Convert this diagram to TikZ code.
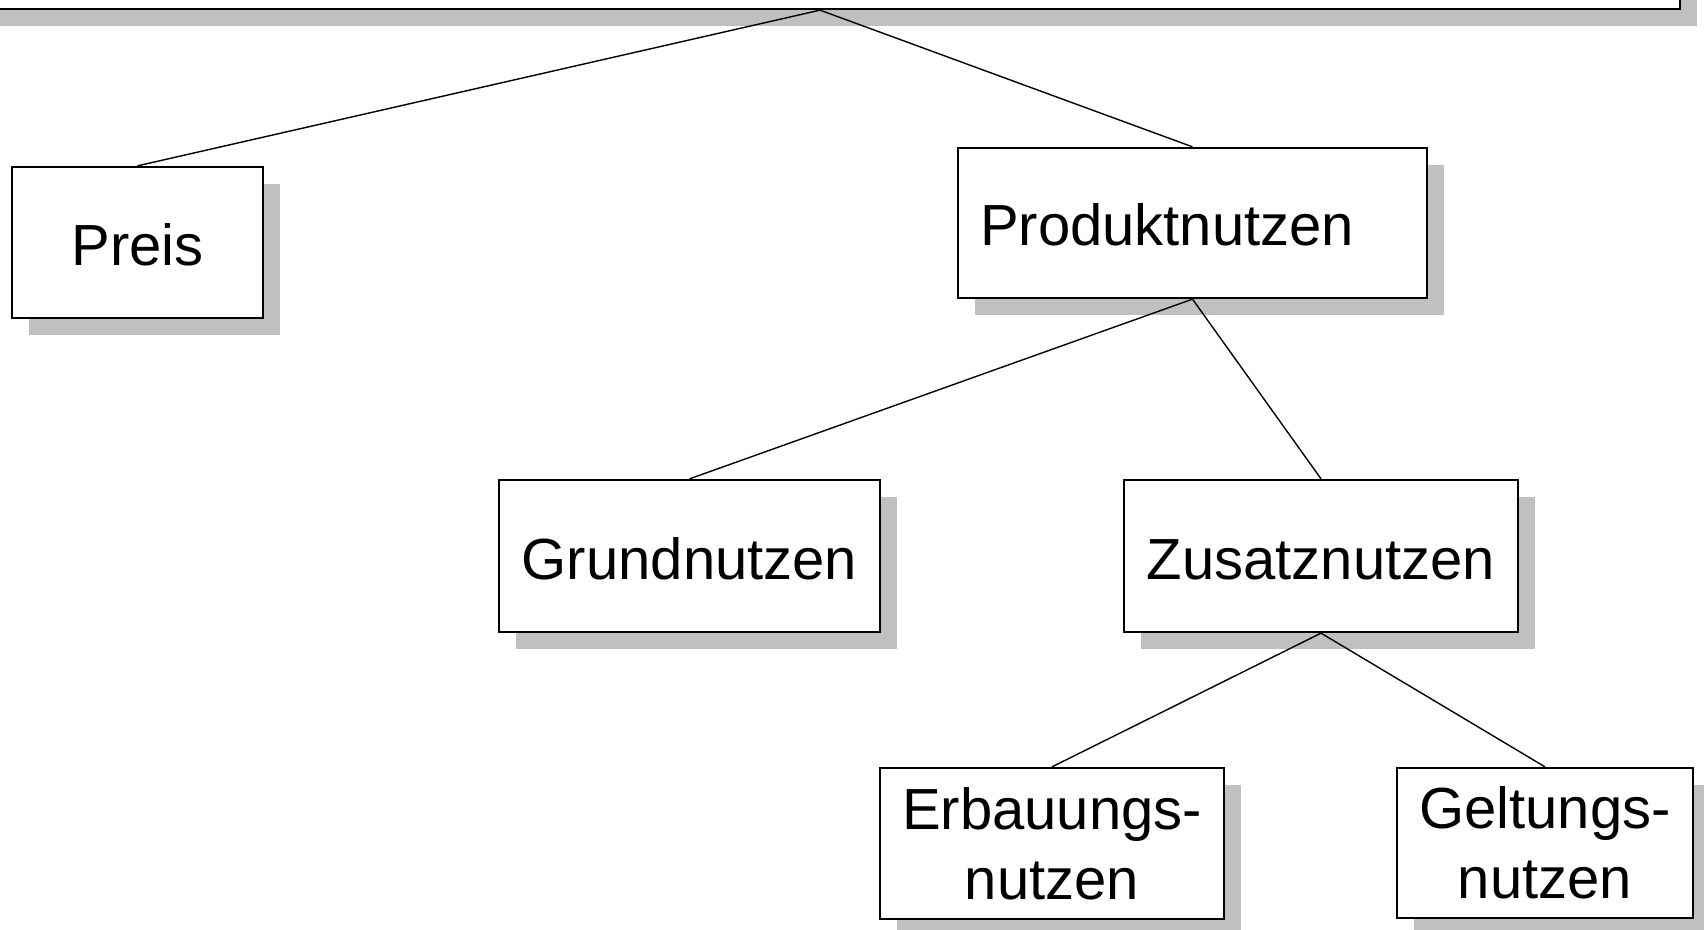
\documentclass[tikz,border=0pt]{standalone}
\usepackage{fontspec}
\setmainfont{Liberation Sans}
\usetikzlibrary{shadows}
\definecolor{shadowgray}{RGB}{192,192,192}
\tikzset{
  box/.style={draw=black, line width=0.65pt, fill=white, inner sep=0pt, align=center,
    font=\fontsize{16.5}{20}\selectfont,
    drop shadow={shadow xshift=0.17cm, shadow yshift=-0.17cm, fill=shadowgray, opacity=1}},
  oneline/.style={box, text height=0.46cm, text depth=0cm},
  link/.style={draw=black, line width=0.4pt}
}
\begin{document}
\begin{tikzpicture}
\useasboundingbox (0,0) rectangle (17.04,-9.30);
\node[box, minimum width=17.20cm, minimum height=0.60cm] (top) at (8.20,0.21) {};
\node[oneline, minimum width=2.51cm, minimum height=1.51cm] (preis) at (1.375,-2.425) {Preis};
\node[oneline, text width=4.25cm, inner xsep=0.22cm, align=left, minimum height=1.50cm] (prod) at (11.925,-2.23) {Produktnutzen};
\node[oneline, minimum width=3.81cm, minimum height=1.52cm] (grund) at (6.895,-5.56) {Grundnutzen};
\node[oneline, minimum width=3.94cm, minimum height=1.52cm] (zusatz) at (13.21,-5.56) {Zusatznutzen};
\node[box, minimum width=3.44cm, minimum height=1.51cm] (erbau) at (10.52,-8.435) {Erbauungs-\\nutzen};
\node[box, minimum width=2.96cm, minimum height=1.50cm] (geltung) at (15.45,-8.43) {Geltungs-\\nutzen};
\draw[link] (top.south) -- (preis.north);
\draw[link] (top.south) -- (prod.north);
\draw[link] (prod.south) -- (grund.north);
\draw[link] (prod.south) -- (zusatz.north);
\draw[link] (zusatz.south) -- (erbau.north);
\draw[link] (zusatz.south) -- (geltung.north);
\end{tikzpicture}
\end{document}
